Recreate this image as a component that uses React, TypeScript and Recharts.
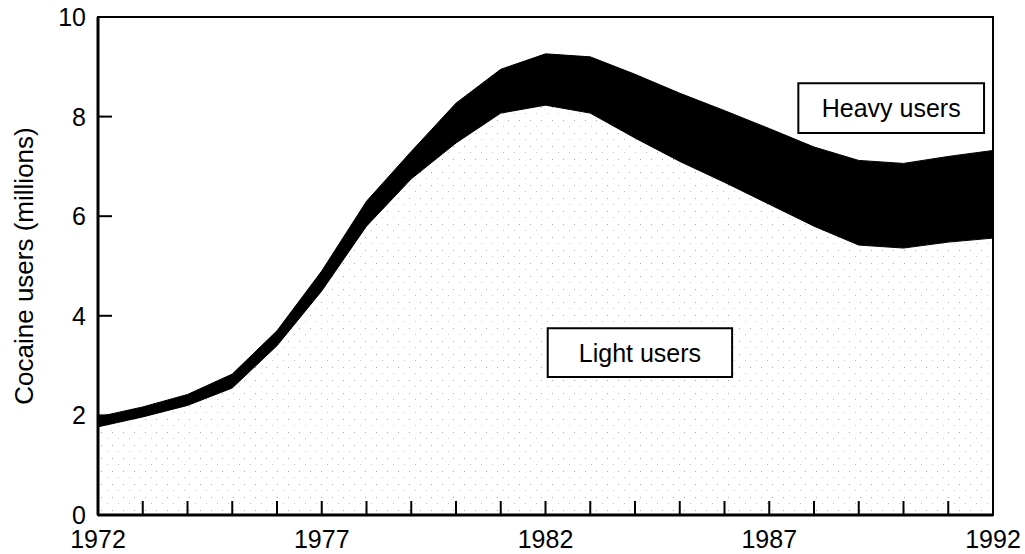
import {
  AreaChart,
  Area,
  XAxis,
  YAxis,
  ReferenceArea,
} from "recharts";

const years = [
  1972, 1973, 1974, 1975, 1976, 1977, 1978, 1979, 1980, 1981, 1982,
  1983, 1984, 1985, 1986, 1987, 1988, 1989, 1990, 1991, 1992,
];
// lower edge of the black band = light users
const lightUsers = [
  1.77, 1.97, 2.2, 2.55, 3.4, 4.5, 5.8, 6.75, 7.47, 8.07, 8.23,
  8.07, 7.57, 7.1, 6.68, 6.24, 5.8, 5.42, 5.36, 5.48, 5.56,
];
// upper edge = all users (light + heavy)
const allUsers = [
  1.97, 2.17, 2.42, 2.83, 3.7, 4.9, 6.3, 7.3, 8.27, 8.95, 9.26,
  9.2, 8.85, 8.47, 8.12, 7.76, 7.39, 7.12, 7.06, 7.2, 7.32,
];
const xTickValues = years;
const xLabelYears = [1972, 1977, 1982, 1987, 1992];
const yTickValues = [0, 2, 4, 6, 8, 10];

const data = years.map((year, i) => ({
  year,
  light: lightUsers[i],
  band: [lightUsers[i], allUsers[i]],
}));

const FONT = "'Liberation Sans', Arial, Helvetica, sans-serif";

const XTick = (props: any) => {
  const { x, y, payload } = props;
  const v = payload.value;
  const inner = v !== 1972 && v !== 1992;
  return (
    <g>
      {inner && <line x1={x} y1={y} x2={x} y2={y - 14} stroke="#000" strokeWidth={2} />}
      {xLabelYears.includes(v) && (
        <text x={x} y={y + 33} textAnchor="middle" fontSize={25} fontFamily={FONT} fill="#000">
          {v}
        </text>
      )}
    </g>
  );
};

const YTick = (props: any) => {
  const { x, y, payload } = props;
  const v = payload.value;
  const inner = v !== 0 && v !== 10;
  return (
    <g>
      {inner && <line x1={x} y1={y} x2={x + 14} y2={y} stroke="#000" strokeWidth={2} />}
      <text x={x - 12} y={y + 9} textAnchor="end" fontSize={25} fontFamily={FONT} fill="#000">
        {v}
      </text>
    </g>
  );
};

const YLabel = (props: any) => {
  const { viewBox } = props;
  const cx = 24;
  const cy = viewBox.y + viewBox.height / 2;
  return (
    <text
      x={cx}
      y={cy}
      transform={`rotate(-90, ${cx}, ${cy})`}
      textAnchor="middle"
      dominantBaseline="central"
      fontSize={26}
      fontFamily={FONT}
      fill="#000"
    >
      Cocaine users (millions)
    </text>
  );
};

const boxLabel = (value: string) => ({
  value,
  position: "center" as const,
  fill: "#000",
  fontSize: 25,
  fontFamily: FONT,
});

export default function App() {
  return (
    <div style={{ position: "absolute", left: 0, top: 0, width: 1025, height: 554, background: "#fff" }}>
      <AreaChart
        width={1025}
        height={554}
        data={data}
        margin={{ top: 17, right: 32, bottom: 9, left: 0 }}
      >
        <defs>
          <pattern id="speckle" width="11" height="13" patternUnits="userSpaceOnUse">
            <rect width="11" height="13" fill="#fff" />
            <rect x="2" y="3" width="1" height="1" fill="#a8a8a8" />
            <rect x="8" y="9" width="1" height="1" fill="#c4c4c4" />
          </pattern>
        </defs>
        <XAxis
          dataKey="year"
          type="number"
          domain={[1972, 1992]}
          ticks={xTickValues}
          interval={0}
          height={30}
          tickSize={0}
          tickMargin={0}
          tickLine={false}
          axisLine={{ stroke: "#000", strokeWidth: 3 }}
          tick={<XTick />}
        />
        <YAxis
          type="number"
          domain={[0, 10]}
          ticks={yTickValues}
          interval={0}
          width={98}
          tickSize={0}
          tickMargin={0}
          tickLine={false}
          axisLine={{ stroke: "#000", strokeWidth: 3 }}
          tick={<YTick />}
          label={<YLabel />}
        />
        <Area
          type="linear"
          dataKey="light"
          stroke="none"
          fill="url(#speckle)"
          fillOpacity={1}
          isAnimationActive={false}
          dot={false}
          activeDot={false}
        />
        <Area
          type="linear"
          dataKey="band"
          stroke="#000"
          strokeWidth={1}
          fill="#000"
          fillOpacity={1}
          isAnimationActive={false}
          dot={false}
          activeDot={false}
        />
        <ReferenceArea
          x1={1972}
          x2={1992}
          y1={0}
          y2={10}
          fill="none"
          stroke="#000"
          strokeWidth={2}
        />
        <ReferenceArea
          x1={1987.65}
          x2={1991.8}
          y1={7.67}
          y2={8.67}
          fill="#fff"
          fillOpacity={1}
          stroke="#000"
          strokeWidth={2}
          label={boxLabel("Heavy users")}
        />
        <ReferenceArea
          x1={1982.05}
          x2={1986.17}
          y1={2.77}
          y2={3.75}
          fill="#fff"
          fillOpacity={1}
          stroke="#000"
          strokeWidth={2}
          label={boxLabel("Light users")}
        />
      </AreaChart>
    </div>
  );
}
